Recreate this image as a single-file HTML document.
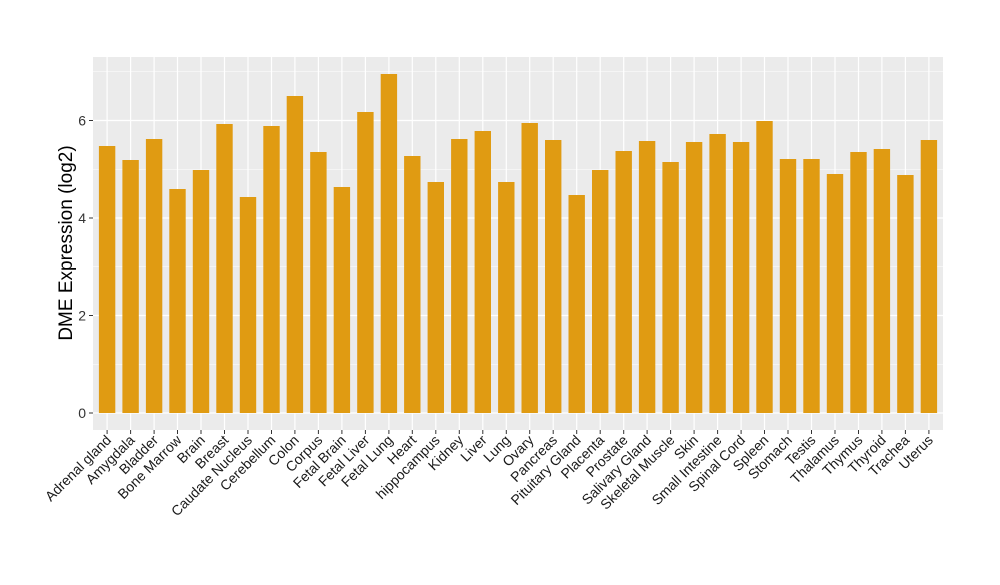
<!DOCTYPE html><html><head><style>body{margin:0;background:#fff}</style></head><body>
<svg width="1000" height="580" xmlns="http://www.w3.org/2000/svg" font-family="Liberation Sans, sans-serif">
<rect x="93" y="57" width="850" height="373" fill="#ebebeb"/>
<g stroke="#fff" stroke-width="0.6">
<line x1="93" x2="943" y1="364.25" y2="364.25"/><line x1="93" x2="943" y1="266.75" y2="266.75"/><line x1="93" x2="943" y1="169.25" y2="169.25"/><line x1="93" x2="943" y1="71.75" y2="71.75"/>
</g>
<g stroke="#fff" stroke-width="1.2">
<line x1="93" x2="943" y1="413" y2="413"/><line x1="93" x2="943" y1="315.5" y2="315.5"/><line x1="93" x2="943" y1="218" y2="218"/><line x1="93" x2="943" y1="120.5" y2="120.5"/>
<line x1="107.1" x2="107.1" y1="57" y2="430"/><line x1="130.6" x2="130.6" y1="57" y2="430"/><line x1="154.1" x2="154.1" y1="57" y2="430"/><line x1="177.5" x2="177.5" y1="57" y2="430"/><line x1="201" x2="201" y1="57" y2="430"/><line x1="224.5" x2="224.5" y1="57" y2="430"/><line x1="248" x2="248" y1="57" y2="430"/><line x1="271.5" x2="271.5" y1="57" y2="430"/><line x1="294.9" x2="294.9" y1="57" y2="430"/><line x1="318.4" x2="318.4" y1="57" y2="430"/><line x1="341.9" x2="341.9" y1="57" y2="430"/><line x1="365.4" x2="365.4" y1="57" y2="430"/><line x1="388.9" x2="388.9" y1="57" y2="430"/><line x1="412.3" x2="412.3" y1="57" y2="430"/><line x1="435.8" x2="435.8" y1="57" y2="430"/><line x1="459.3" x2="459.3" y1="57" y2="430"/><line x1="482.8" x2="482.8" y1="57" y2="430"/><line x1="506.3" x2="506.3" y1="57" y2="430"/><line x1="529.7" x2="529.7" y1="57" y2="430"/><line x1="553.2" x2="553.2" y1="57" y2="430"/><line x1="576.7" x2="576.7" y1="57" y2="430"/><line x1="600.2" x2="600.2" y1="57" y2="430"/><line x1="623.7" x2="623.7" y1="57" y2="430"/><line x1="647.1" x2="647.1" y1="57" y2="430"/><line x1="670.6" x2="670.6" y1="57" y2="430"/><line x1="694.1" x2="694.1" y1="57" y2="430"/><line x1="717.6" x2="717.6" y1="57" y2="430"/><line x1="741.1" x2="741.1" y1="57" y2="430"/><line x1="764.5" x2="764.5" y1="57" y2="430"/><line x1="788" x2="788" y1="57" y2="430"/><line x1="811.5" x2="811.5" y1="57" y2="430"/><line x1="835" x2="835" y1="57" y2="430"/><line x1="858.5" x2="858.5" y1="57" y2="430"/><line x1="881.9" x2="881.9" y1="57" y2="430"/><line x1="905.4" x2="905.4" y1="57" y2="430"/><line x1="928.9" x2="928.9" y1="57" y2="430"/>
</g>
<g fill="#e09b12">
<rect x="98.9" y="146" width="16.4" height="267"/><rect x="122.4" y="160" width="16.4" height="253"/><rect x="145.9" y="139" width="16.4" height="274"/><rect x="169.3" y="189" width="16.4" height="224"/><rect x="192.8" y="170" width="16.4" height="243"/><rect x="216.3" y="124" width="16.4" height="289"/><rect x="239.8" y="197" width="16.4" height="216"/><rect x="263.3" y="126" width="16.4" height="287"/><rect x="286.7" y="96" width="16.4" height="317"/><rect x="310.2" y="152" width="16.4" height="261"/><rect x="333.7" y="187" width="16.4" height="226"/><rect x="357.2" y="112" width="16.4" height="301"/><rect x="380.7" y="74" width="16.4" height="339"/><rect x="404.1" y="156" width="16.4" height="257"/><rect x="427.6" y="182" width="16.4" height="231"/><rect x="451.1" y="139" width="16.4" height="274"/><rect x="474.6" y="131" width="16.4" height="282"/><rect x="498.1" y="182" width="16.4" height="231"/><rect x="521.5" y="123" width="16.4" height="290"/><rect x="545" y="140" width="16.4" height="273"/><rect x="568.5" y="195" width="16.4" height="218"/><rect x="592" y="170" width="16.4" height="243"/><rect x="615.5" y="151" width="16.4" height="262"/><rect x="638.9" y="141" width="16.4" height="272"/><rect x="662.4" y="162" width="16.4" height="251"/><rect x="685.9" y="142" width="16.4" height="271"/><rect x="709.4" y="134" width="16.4" height="279"/><rect x="732.9" y="142" width="16.4" height="271"/><rect x="756.3" y="121" width="16.4" height="292"/><rect x="779.8" y="159" width="16.4" height="254"/><rect x="803.3" y="159" width="16.4" height="254"/><rect x="826.8" y="174" width="16.4" height="239"/><rect x="850.3" y="152" width="16.4" height="261"/><rect x="873.7" y="149" width="16.4" height="264"/><rect x="897.2" y="175" width="16.4" height="238"/><rect x="920.7" y="140" width="16.4" height="273"/>
</g>
<g stroke="#333">
<line x1="89" x2="93" y1="413" y2="413"/><line x1="89" x2="93" y1="315.5" y2="315.5"/><line x1="89" x2="93" y1="218" y2="218"/><line x1="89" x2="93" y1="120.5" y2="120.5"/>
</g>
<g font-size="14" fill="#333" text-anchor="end">
<text x="86" y="418">0</text><text x="86" y="320.5">2</text><text x="86" y="223">4</text><text x="86" y="125.5">6</text>
</g>
<g font-size="14" fill="#1a1a1a" text-anchor="end">
<text transform="translate(112,441) rotate(-45)">Adrenal gland</text>
<text transform="translate(135.5,441) rotate(-45)">Amygdala</text>
<text transform="translate(159,441) rotate(-45)">Bladder</text>
<text transform="translate(182.4,441) rotate(-45)">Bone Marrow</text>
<text transform="translate(205.9,441) rotate(-45)">Brain</text>
<text transform="translate(229.4,441) rotate(-45)">Breast</text>
<text transform="translate(252.9,441) rotate(-45)">Caudate Nucleus</text>
<text transform="translate(276.4,441) rotate(-45)">Cerebellum</text>
<text transform="translate(299.8,441) rotate(-45)">Colon</text>
<text transform="translate(323.3,441) rotate(-45)">Corpus</text>
<text transform="translate(346.8,441) rotate(-45)">Fetal Brain</text>
<text transform="translate(370.3,441) rotate(-45)">Fetal Liver</text>
<text transform="translate(393.8,441) rotate(-45)">Fetal Lung</text>
<text transform="translate(417.2,441) rotate(-45)">Heart</text>
<text transform="translate(440.7,441) rotate(-45)">hippocampus</text>
<text transform="translate(464.2,441) rotate(-45)">Kidney</text>
<text transform="translate(487.7,441) rotate(-45)">Liver</text>
<text transform="translate(511.2,441) rotate(-45)">Lung</text>
<text transform="translate(534.6,441) rotate(-45)">Ovary</text>
<text transform="translate(558.1,441) rotate(-45)">Pancreas</text>
<text transform="translate(581.6,441) rotate(-45)">Pituitary Gland</text>
<text transform="translate(605.1,441) rotate(-45)">Placenta</text>
<text transform="translate(628.6,441) rotate(-45)">Prostate</text>
<text transform="translate(652,441) rotate(-45)">Salivary Gland</text>
<text transform="translate(675.5,441) rotate(-45)">Skeletal Muscle</text>
<text transform="translate(699,441) rotate(-45)">Skin</text>
<text transform="translate(722.5,441) rotate(-45)">Small Intestine</text>
<text transform="translate(746,441) rotate(-45)">Spinal Cord</text>
<text transform="translate(769.4,441) rotate(-45)">Spleen</text>
<text transform="translate(792.9,441) rotate(-45)">Stomach</text>
<text transform="translate(816.4,441) rotate(-45)">Testis</text>
<text transform="translate(839.9,441) rotate(-45)">Thalamus</text>
<text transform="translate(863.4,441) rotate(-45)">Thymus</text>
<text transform="translate(886.8,441) rotate(-45)">Thyroid</text>
<text transform="translate(910.3,441) rotate(-45)">Trachea</text>
<text transform="translate(933.8,441) rotate(-45)">Uterus</text>
</g>
<g stroke="#333">
<line x1="107.1" x2="107.1" y1="430" y2="434"/><line x1="130.6" x2="130.6" y1="430" y2="434"/><line x1="154.1" x2="154.1" y1="430" y2="434"/><line x1="177.5" x2="177.5" y1="430" y2="434"/><line x1="201" x2="201" y1="430" y2="434"/><line x1="224.5" x2="224.5" y1="430" y2="434"/><line x1="248" x2="248" y1="430" y2="434"/><line x1="271.5" x2="271.5" y1="430" y2="434"/><line x1="294.9" x2="294.9" y1="430" y2="434"/><line x1="318.4" x2="318.4" y1="430" y2="434"/><line x1="341.9" x2="341.9" y1="430" y2="434"/><line x1="365.4" x2="365.4" y1="430" y2="434"/><line x1="388.9" x2="388.9" y1="430" y2="434"/><line x1="412.3" x2="412.3" y1="430" y2="434"/><line x1="435.8" x2="435.8" y1="430" y2="434"/><line x1="459.3" x2="459.3" y1="430" y2="434"/><line x1="482.8" x2="482.8" y1="430" y2="434"/><line x1="506.3" x2="506.3" y1="430" y2="434"/><line x1="529.7" x2="529.7" y1="430" y2="434"/><line x1="553.2" x2="553.2" y1="430" y2="434"/><line x1="576.7" x2="576.7" y1="430" y2="434"/><line x1="600.2" x2="600.2" y1="430" y2="434"/><line x1="623.7" x2="623.7" y1="430" y2="434"/><line x1="647.1" x2="647.1" y1="430" y2="434"/><line x1="670.6" x2="670.6" y1="430" y2="434"/><line x1="694.1" x2="694.1" y1="430" y2="434"/><line x1="717.6" x2="717.6" y1="430" y2="434"/><line x1="741.1" x2="741.1" y1="430" y2="434"/><line x1="764.5" x2="764.5" y1="430" y2="434"/><line x1="788" x2="788" y1="430" y2="434"/><line x1="811.5" x2="811.5" y1="430" y2="434"/><line x1="835" x2="835" y1="430" y2="434"/><line x1="858.5" x2="858.5" y1="430" y2="434"/><line x1="881.9" x2="881.9" y1="430" y2="434"/><line x1="905.4" x2="905.4" y1="430" y2="434"/><line x1="928.9" x2="928.9" y1="430" y2="434"/>
</g>
<text transform="translate(72,243) rotate(-90)" font-size="19" text-anchor="middle" fill="#000">DME Expression (log2)</text>
</svg></body></html>
